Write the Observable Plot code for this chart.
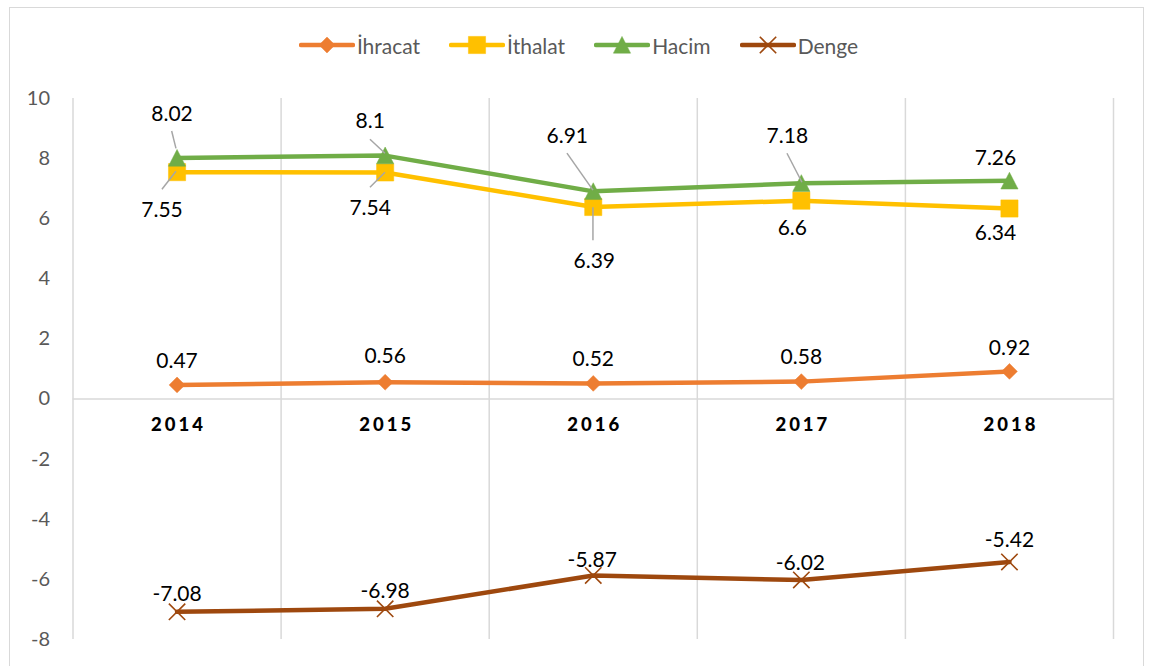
<!DOCTYPE html>
<html>
<head>
<meta charset="utf-8">
<script src="https://cdn.jsdelivr.net/npm/d3@7"></script>
<script src="https://cdn.jsdelivr.net/npm/@observablehq/plot@0.6"></script>
<style>
  body { margin: 0; background: #fff; font-family: Lato, "Open Sans", sans-serif; }
  #wrap { position: relative; width: 1149px; height: 666px; overflow: hidden; background: #fff; }
  #frame { position: absolute; left: 9px; top: 7px; width: 1135px; height: 720px; border: 1px solid #d9d9d9; box-sizing: border-box; pointer-events: none; }
  #legend { position: absolute; left: 0; top: 25px; width: 1149px; height: 40px; display: flex; align-items: center; justify-content: center; padding-left: 8px; box-sizing: border-box; }
  .item { display: flex; align-items: center; margin-right: 29px; }
  .item:last-child { margin-right: 0; }
  .item span { font-family: Lato, sans-serif; font-size: 21px; color: #595959; margin-left: 2px; }
  #chart { position: absolute; left: 0; top: 70px; }
  g[font-weight="900"] text { letter-spacing: 3px; }
</style>
</head>
<body>
<div id="wrap">
  <div id="frame"></div>
  <div id="legend"></div>
  <div id="chart"></div>
</div>
<script>
// ---- data ----
const years = [2014, 2015, 2016, 2017, 2018];
const ihracat = [0.47, 0.56, 0.52, 0.58, 0.92];
const ithalat = [7.55, 7.54, 6.39, 6.6, 6.34];
const hacim = [8.02, 8.1, 6.91, 7.18, 7.26];
const denge = [-7.08, -6.98, -5.87, -6.02, -5.42];
const seriesNames = ["İhracat", "İthalat", "Hacim", "Denge"];
const yTicks = [-8, -6, -4, -2, 0, 2, 4, 6, 8, 10];

// ---- styles / layout ----
const seriesValues = [ihracat, ithalat, hacim, denge];
const colors = ["#ED7D31", "#FFC000", "#70AD47", "#9E480E"];

const diamondSym = { draw(ctx, size) { const h = Math.sqrt(size / Math.PI); ctx.moveTo(0, -h); ctx.lineTo(h, 0); ctx.lineTo(0, h); ctx.lineTo(-h, 0); ctx.closePath(); } };
const squareSym = { draw(ctx, size) { const h = Math.sqrt(size / Math.PI); ctx.rect(-h, -h, 2 * h, 2 * h); } };
const triSym = { draw(ctx, size) { const h = Math.sqrt(size / Math.PI); ctx.moveTo(0, -h); ctx.lineTo(h, h * 0.95); ctx.lineTo(-h, h * 0.95); ctx.closePath(); } };
const xSym = { draw(ctx, size) { const h = Math.sqrt(size / Math.PI); ctx.moveTo(-h, -h); ctx.lineTo(h, h); ctx.moveTo(-h, h); ctx.lineTo(h, -h); } };
const markerStyle = [
  { symbol: diamondSym, r: 7.9, filled: true },
  { symbol: squareSym, r: 8.6, filled: true },
  { symbol: triSym, r: 8.6, filled: true },
  { symbol: xSym, r: 8.2, filled: false }
];

// label offsets (px) relative to each point
const labelOffsets = [
  [[0, -24], [0, -26], [0, -24], [0, -24], [0, -23]],
  [[-15, 38], [-15, 36], [1, 54], [-9, 27.5], [-14, 25]],
  [[-5, -44], [-15, -34], [-26, -55], [-14, -46.5], [-14, -23]],
  [[0, -18], [0, -18], [-1, -15], [-1, -17], [0, -22]]
];
// leader lines (px offsets from point): [seriesIndex, yearIndex, [fromX, fromY], [toX, toY]]
const leaderDefs = [
  [2, 0, [-4.9, -26.5], [-0.6, -9.2]],
  [2, 1, [-14.7, -15.8], [0.3, -1.8]],
  [2, 2, [-25.8, -37.7], [0.2, -0.7]],
  [2, 3, [-13.9, -29.5], [1.1, -0.5]],
  [1, 0, [-14.6, 17.6], [-0.6, -0.4]],
  [1, 1, [-14.7, 15.3], [0.3, 0.3]],
  [1, 2, [0.2, 33.7], [0.2, 0.7]]
];

// ---- table ----
const rows = seriesNames.flatMap((s, si) => years.map((yr, i) => ({ series: s, si, i, year: yr, value: seriesValues[si][i] })));
const boundaries = years.map(y => y - 0.5).concat([years[years.length - 1] + 0.5]);

// ---- legend ----
const legend = document.getElementById("legend");
seriesNames.forEach((name, si) => {
  const item = document.createElement("div");
  item.className = "item";
  const svg = d3.create("svg").attr("width", 56).attr("height", 20);
  svg.append("line").attr("x1", 2).attr("x2", 54).attr("y1", 10).attr("y2", 10)
    .attr("stroke", colors[si]).attr("stroke-width", 4.5).attr("stroke-linecap", "round");
  const ms = markerStyle[si];
  const path = d3.symbol(ms.symbol, ms.r * ms.r * Math.PI)();
  svg.append("path").attr("d", path).attr("transform", "translate(28,10)")
    .attr("fill", ms.filled ? colors[si] : "none").attr("stroke", colors[si])
    .attr("stroke-width", ms.filled ? 0.5 : 1.6);
  item.appendChild(svg.node());
  const sp = document.createElement("span");
  sp.textContent = name;
  item.appendChild(sp);
  legend.appendChild(item);
});

// ---- marks ----
const marks = [
  Plot.ruleX(boundaries, { stroke: "#d9d9d9", strokeWidth: 1.5 }),
  Plot.ruleY([0], { stroke: "#d9d9d9", strokeWidth: 1.5 }),
  Plot.axisY({ ticks: yTicks, tickSize: 0, tickPadding: 23, fontSize: 20, color: "#595959", tickFormat: d => String(d), label: null }),
  Plot.text(years, { x: d => d, y: () => 0, text: d => String(d), dy: 26.5, dx: 1.5, fontSize: 18.5, fontWeight: 900, fill: "#000" })
];

seriesNames.forEach((s, si) => {
  const data = rows.filter(r => r.si === si);
  const ms = markerStyle[si];
  marks.push(Plot.line(data, { x: "year", y: "value", stroke: colors[si], strokeWidth: 4.5, strokeLinecap: "round", strokeLinejoin: "round" }));
  marks.push(Plot.dot(data, { x: "year", y: "value", symbol: ms.symbol, r: ms.r,
    fill: ms.filled ? colors[si] : "none", stroke: colors[si], strokeWidth: ms.filled ? 0.5 : 1.6 }));
});

// leader lines drawn with the plot's scales
marks.push((index, scales) => {
  const g = d3.create("svg:g");
  leaderDefs.forEach(([si, i, from, to]) => {
    const px = scales.x(years[i]);
    const py = scales.y(seriesValues[si][i]);
    g.append("line")
      .attr("x1", px + from[0]).attr("y1", py + from[1])
      .attr("x2", px + to[0]).attr("y2", py + to[1])
      .attr("stroke", "#A6A6A6").attr("stroke-width", 1.5);
  });
  return g.node();
});

rows.forEach(r => {
  const [dx, dy] = labelOffsets[r.si][r.i];
  marks.push(Plot.text([r], { x: "year", y: "value", text: d => String(d.value), dx, dy, fontSize: 21, fill: "#000" }));
});

const chart = Plot.plot({
  width: 1149,
  height: 596,
  marginLeft: 72.5,
  marginRight: 36,
  marginTop: 28,
  marginBottom: 27,
  x: { domain: [2013.5, 2018.5], axis: null },
  y: { domain: [-8, 10], axis: null },
  style: { fontFamily: "Lato, sans-serif", background: "transparent", overflow: "visible" },
  marks
});
document.getElementById("chart").appendChild(chart);
</script>
</body>
</html>
